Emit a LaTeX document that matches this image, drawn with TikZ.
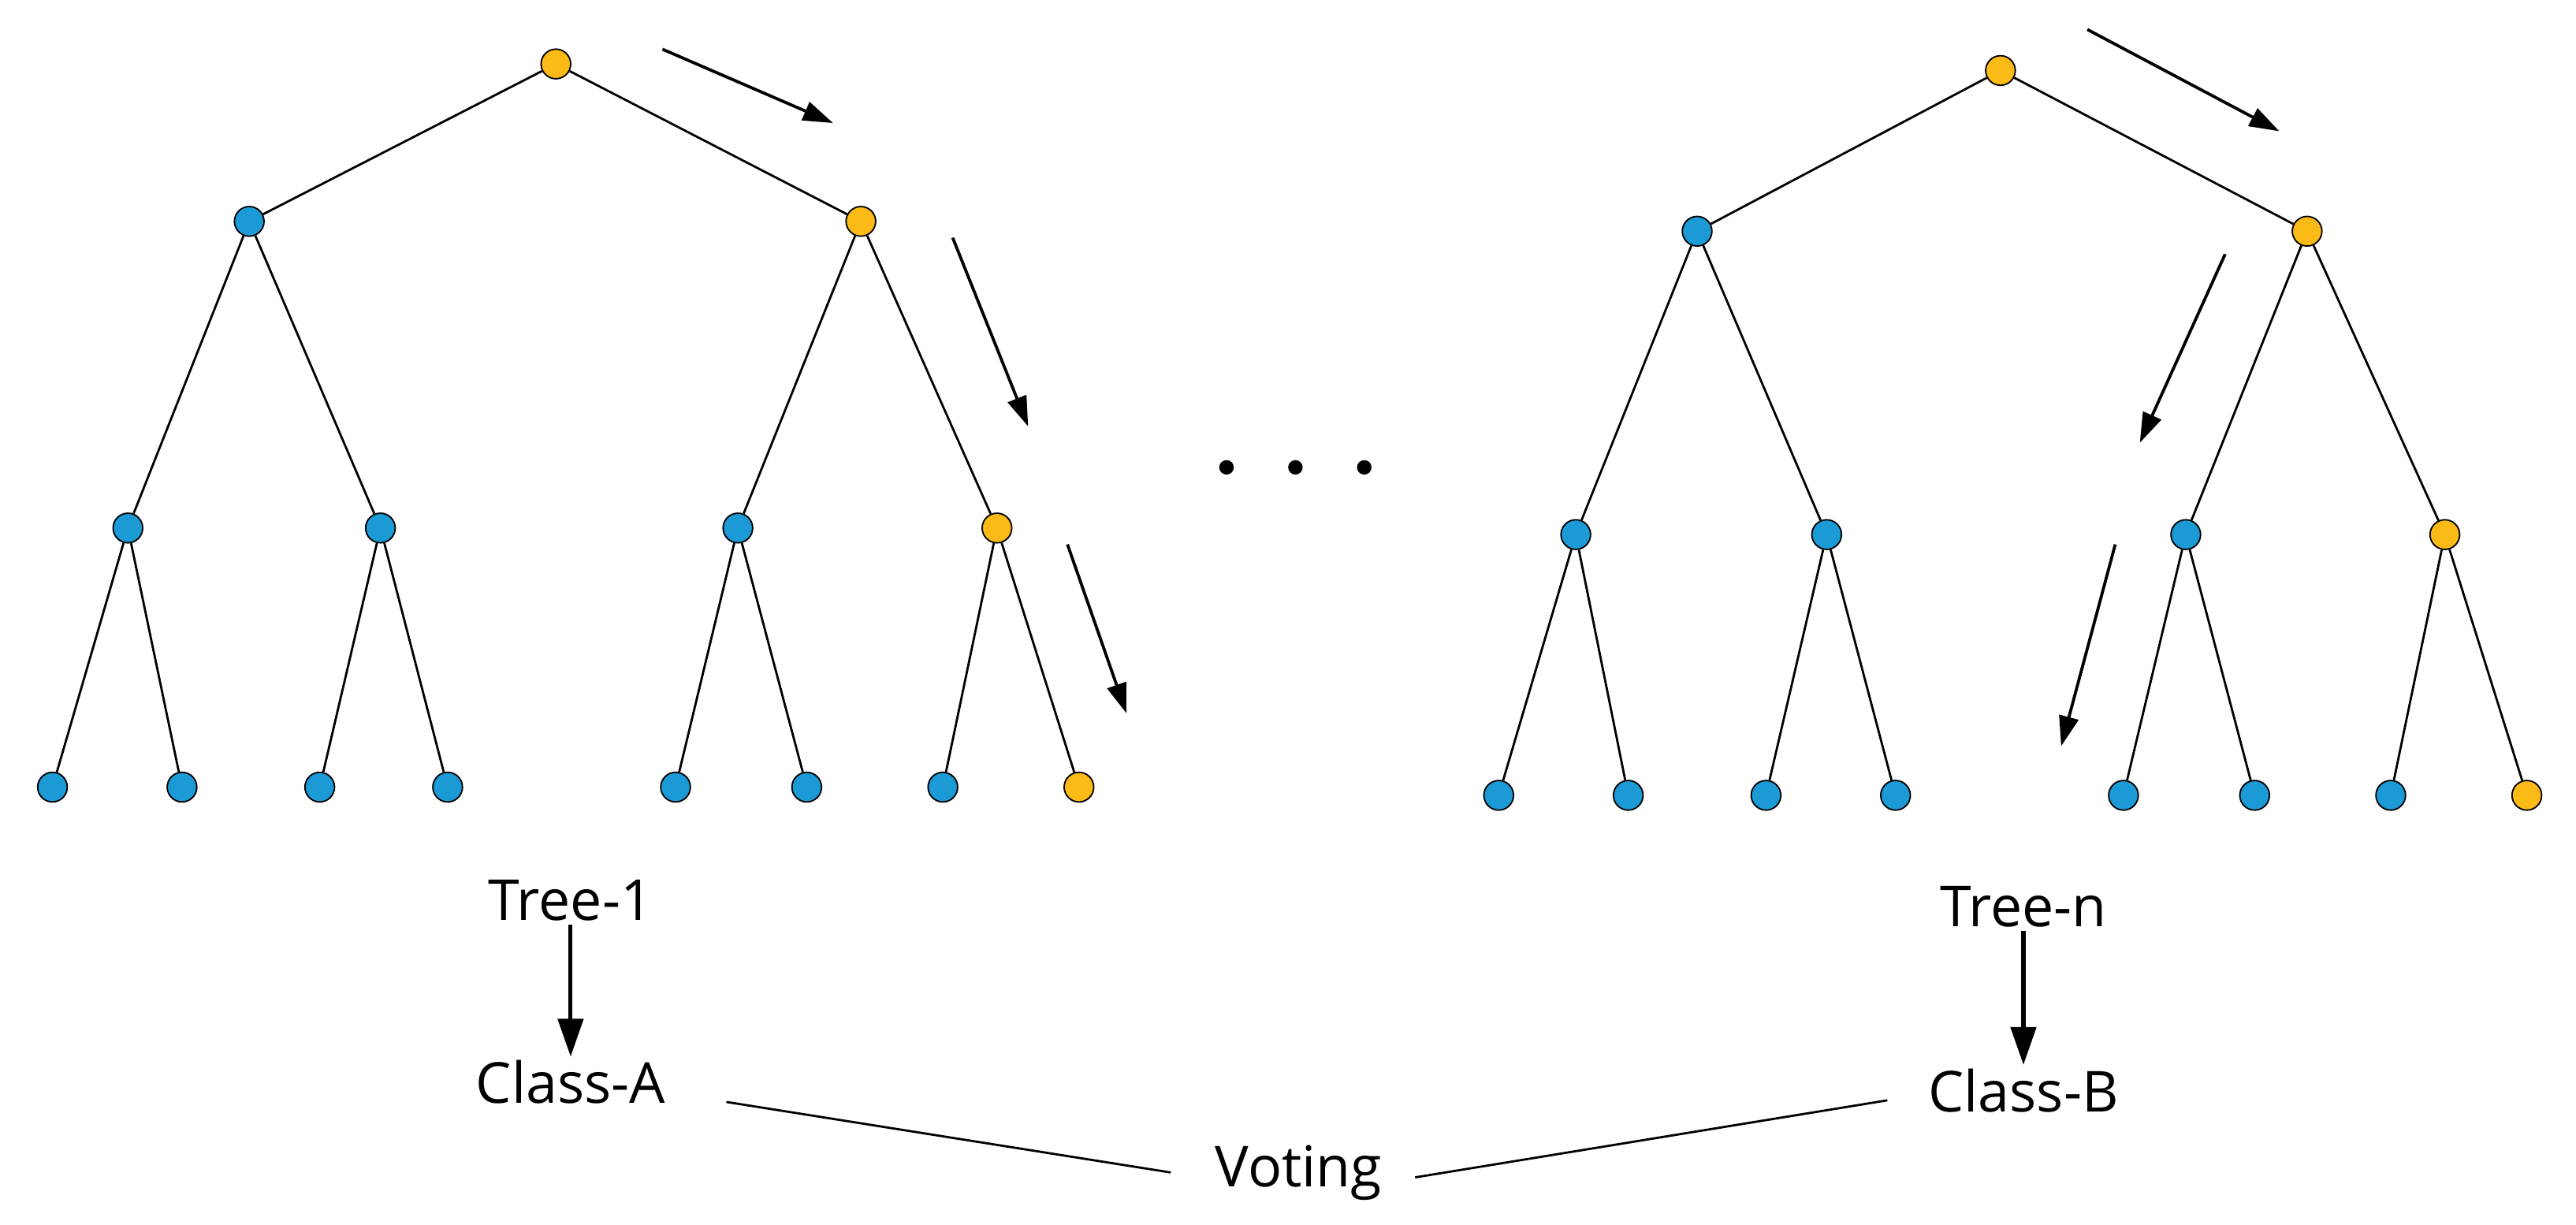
\documentclass[tikz,border=0pt]{standalone}
\usepackage{fontspec}
\setmainfont{Open Sans}
\usetikzlibrary{arrows.meta}
\definecolor{nblue}{HTML}{1B9AD6}
\definecolor{nyel}{HTML}{FBBA16}
\begin{document}
\begin{tikzpicture}[x=0.052cm,y=-0.052cm,
  bn/.style={circle,draw=black,line width=1.3pt,fill=nblue,minimum size=0.94cm,inner sep=0pt},
  yn/.style={bn,fill=nyel},
  edge/.style={line width=2pt},
  arr/.style={line width=2.7pt,-{Triangle[length=0.95cm,width=0.62cm]}},
  barr/.style={line width=3.6pt,-{Triangle[length=1.2cm,width=0.8cm]}},
  lbl/.style={font=\fontsize{51}{60}\selectfont}]
\useasboundingbox (0,0) rectangle (1571,747);
% Tree 1
\node[yn] (a) at (339,39) {};
\node[bn] (b1) at (152,135) {};
\node[yn] (b2) at (525,135) {};
\node[bn] (c1) at (78,322) {};
\node[bn] (c2) at (232,322) {};
\node[bn] (c3) at (450,322) {};
\node[yn] (c4) at (608,322) {};
\foreach \i/\x in {1/32,2/111,3/195,4/273,5/412,6/492,7/575}{\node[bn] (d\i) at (\x,480) {};}
\node[yn] (d8) at (658,480) {};
\draw[edge] (a)--(b1) (a)--(b2) (b1)--(c1) (b1)--(c2) (b2)--(c3) (b2)--(c4)
 (c1)--(d1) (c1)--(d2) (c2)--(d3) (c2)--(d4) (c3)--(d5) (c3)--(d6) (c4)--(d7) (c4)--(d8);
\coordinate (p1) at (404,30); \coordinate (q1) at (508,75);
\coordinate (p2) at (581,145); \coordinate (q2) at (627,260);
\coordinate (p3) at (651,332); \coordinate (q3) at (687,435);
\draw[arr] (p1)--(q1); \draw[arr] (p2)--(q2); \draw[arr] (p3)--(q3);
% dots
\foreach \x/\n in {748/1,790/2,832/3}{\fill (\x,285) circle (0.23cm) coordinate (dot\n);}
% Tree n
\node[yn] (A) at (1220,43) {};
\node[bn] (B1) at (1035,141) {};
\node[yn] (B2) at (1407,141) {};
\node[bn] (C1) at (961,326) {};
\node[bn] (C2) at (1114,326) {};
\node[bn] (C3) at (1333,326) {};
\node[yn] (C4) at (1491,326) {};
\foreach \i/\x in {1/914,2/993,3/1077,4/1156,5/1295,6/1375,7/1458}{\node[bn] (D\i) at (\x,485) {};}
\node[yn] (D8) at (1541,485) {};
\draw[edge] (A)--(B1) (A)--(B2) (B1)--(C1) (B1)--(C2) (B2)--(C3) (B2)--(C4)
 (C1)--(D1) (C1)--(D2) (C2)--(D3) (C2)--(D4) (C3)--(D5) (C3)--(D6) (C4)--(D7) (C4)--(D8);
\coordinate (P1) at (1273,18); \coordinate (Q1) at (1390,80);
\coordinate (P2) at (1357,155); \coordinate (Q2) at (1305,270);
\coordinate (P3) at (1290,332); \coordinate (Q3) at (1257,455);
\draw[arr] (P1)--(Q1); \draw[arr] (P2)--(Q2); \draw[arr] (P3)--(Q3);
% labels
\node[lbl] (t1) at (348,549) {Tree-1};
\node[lbl] (ca) at (348,660) {Class-A};
\node[lbl] (tn) at (1234,553) {Tree-n};
\node[lbl] (cb) at (1234,665) {Class-B};
\node[lbl] (v) at (792,715) {Voting};
\draw[barr] (t1)--(ca);
\draw[barr] (tn)--(cb);
\coordinate (l1) at (443,672); \coordinate (l2) at (714,715);
\coordinate (l3) at (863,718); \coordinate (l4) at (1151,671);
\draw[edge] (l1)--(l2) (l3)--(l4);
\end{tikzpicture}
\end{document}
